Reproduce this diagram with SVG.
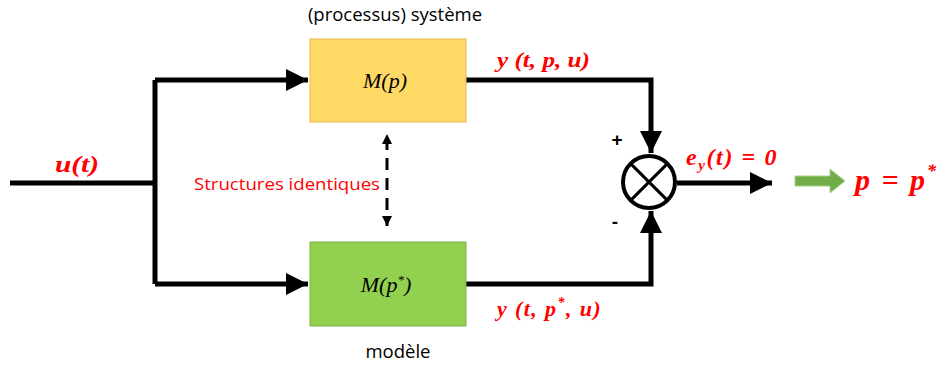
<svg xmlns="http://www.w3.org/2000/svg" width="939" height="367" viewBox="0 0 939 367">
<defs>
<marker id="ah" markerWidth="4.4" markerHeight="4.4" refX="4.4" refY="2.2" orient="auto" markerUnits="strokeWidth"><path d="M0,0 L4.4,2.2 L0,4.4 Z" fill="#000"/></marker>
<marker id="ahs" markerWidth="3.4" markerHeight="3.4" refX="3.4" refY="1.7" orient="auto-start-reverse" markerUnits="strokeWidth"><path d="M0,0 L3.4,1.7 L0,3.4 Z" fill="#000"/></marker>
</defs>
<style>
.wire{fill:none;stroke:#000;stroke-width:5}
.math{font-family:"Liberation Serif","DejaVu Serif",serif;font-style:italic;font-weight:bold;fill:#ff0000}
.mb{font-family:"Liberation Serif","DejaVu Serif",serif;font-style:italic;fill:#000;font-size:22px}
.lbl{font-family:"Open Sans","Liberation Sans",sans-serif;fill:#000;font-size:18.5px}
</style>
<rect width="939" height="367" fill="#fff"/>
<g id="connectors">
<path class="wire" d="M10,183 H155"/>
<path class="wire" d="M155,80 V284"/>
<path class="wire" d="M155,80 H308" marker-end="url(#ah)"/>
<path class="wire" d="M155,284 H308" marker-end="url(#ah)"/>
<path class="wire" d="M466,80 H651 V153" marker-end="url(#ah)"/>
<path class="wire" d="M466,284 H651 V211" marker-end="url(#ah)"/>
<path class="wire" d="M677,183 H772" marker-end="url(#ah)"/>
<path d="M387,134 V226" fill="none" stroke="#000" stroke-width="3" stroke-dasharray="12,8" stroke-dashoffset="-4" marker-start="url(#ahs)" marker-end="url(#ahs)"/>
</g>
<g id="system">
<rect x="310" y="39" width="156" height="83" fill="#ffd966" stroke="#e8b84b" stroke-width="1"/>
<text class="mb" x="385" y="88" text-anchor="middle">M(p)</text>
<text class="lbl" x="395" y="21" text-anchor="middle">(processus) système</text>
</g>
<g id="model">
<rect x="310" y="242" width="156" height="84" fill="#92d050" stroke="#7fb243" stroke-width="1"/>
<text class="mb" x="386" y="292" text-anchor="middle">M(p<tspan font-size="13" dy="-8">*</tspan><tspan dy="8">)</tspan></text>
<text class="lbl" x="398" y="358" text-anchor="middle">modèle</text>
</g>
<g id="comparator">
<circle cx="649" cy="182" r="26" fill="#fff" stroke="#000" stroke-width="4"/>
<path d="M630.6,163.6 L667.4,200.4 M667.4,163.6 L630.6,200.4" stroke="#000" stroke-width="3"/>
<text x="617" y="146" text-anchor="middle" font-family="Liberation Sans,sans-serif" font-size="19" font-weight="bold">+</text>
<text x="615" y="228" text-anchor="middle" font-family="Liberation Sans,sans-serif" font-size="19" font-weight="bold">-</text>
</g>
<g id="labels">
<text class="math" x="55" y="172" font-size="24" textLength="44" lengthAdjust="spacingAndGlyphs">u(t)</text>
<text class="math" x="497" y="67" font-size="22" textLength="93" lengthAdjust="spacingAndGlyphs">y (t, p, u)</text>
<text class="math" x="497" y="316" font-size="22" letter-spacing="1.4">y (t, p<tspan font-size="14" dy="-9">*</tspan><tspan dy="9">, u)</tspan></text>
<text class="math" x="686" y="165" font-size="24" letter-spacing="1.6">e<tspan font-size="15" dy="5">y</tspan><tspan dy="-5">(t)  =  0</tspan></text>
<text x="194" y="190" font-family="Open Sans,Liberation Sans,sans-serif" font-size="17" fill="#ff0000" textLength="186" lengthAdjust="spacingAndGlyphs">Structures identiques</text>
</g>
<g id="result">
<path d="M795,176 H830 V169 L845,181 L830,193 V186 H795 Z" fill="#70ad47" stroke="#a9d18e" stroke-width="1"/>
<text class="math" x="855" y="190" font-size="30" letter-spacing="2">p = p<tspan font-size="18" dy="-13">*</tspan></text>
</g>
</svg>
